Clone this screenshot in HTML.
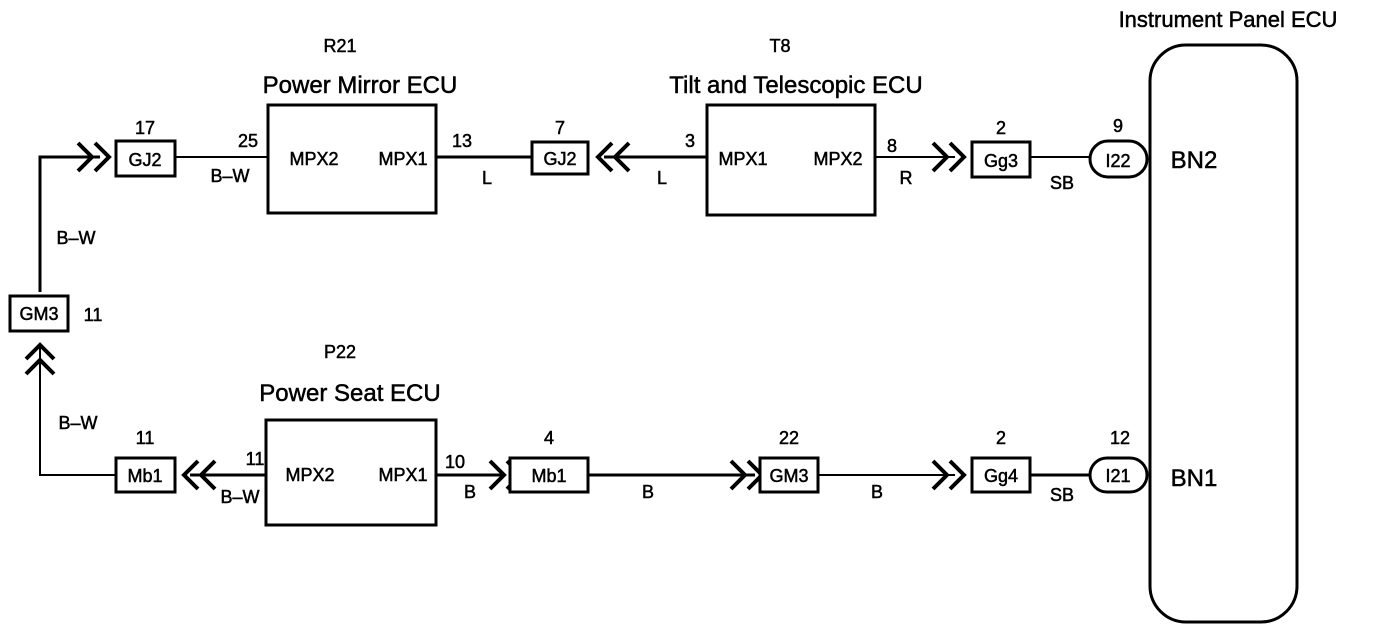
<!DOCTYPE html><html><head><style>body{margin:0;background:#fff}svg{display:block}text{font-family:"Liberation Sans",Arial,sans-serif;fill:#000;stroke:#000;stroke-width:0.5}</style></head><body>
<svg width="1376" height="630" viewBox="0 0 1376 630" xmlns="http://www.w3.org/2000/svg">
<g fill="none" stroke="#000" stroke-width="2">
<polyline points="40,292 40,157 100,157" stroke-width="3"/>
<line x1="175" y1="157" x2="268" y2="157"/>
<line x1="436" y1="157" x2="532" y2="157" stroke-width="3"/>
<line x1="604" y1="157" x2="707" y2="157" stroke-width="3"/>
<line x1="875" y1="157" x2="955" y2="157"/>
<line x1="1030" y1="157" x2="1090" y2="157"/>
<polyline points="40,345 40,475 116,475" stroke-width="2"/>
<line x1="190" y1="475" x2="266" y2="475" stroke-width="3"/>
<line x1="436" y1="475" x2="505" y2="475" stroke-width="3"/>
<line x1="588" y1="475" x2="755" y2="475" stroke-width="3"/>
<line x1="818" y1="475" x2="955" y2="475"/>
<line x1="1030" y1="475" x2="1090" y2="475" stroke-width="3"/>
</g>
<g fill="none" stroke="#000" stroke-width="4">
<polyline points="78,143 92,157 78,171"/><polyline points="95,143 109,157 95,171"/>
<polyline points="629,143 615,157 629,171"/><polyline points="612,143 598,157 612,171"/>
<polyline points="933,143 947,157 933,171"/><polyline points="950,143 964,157 950,171"/>
<polyline points="26,359 40,345 54,359"/><polyline points="26,374 40,360 54,374"/>
<polyline points="215,461 201,475 215,489"/><polyline points="198,461 184,475 198,489"/>
<polyline points="490,461 504,475 490,489"/><polyline points="507,461 521,475 507,489"/>
<polyline points="731,461 745,475 731,489"/><polyline points="748,461 762,475 748,489"/>
<polyline points="933,461 947,475 933,489"/><polyline points="950,461 964,475 950,489"/>
</g>
<g fill="#fff" stroke="#000" stroke-width="3">
<rect x="268" y="105" width="168" height="108"/>
<rect x="707" y="105" width="168" height="110"/>
<rect x="266" y="420" width="170" height="105"/>
<rect x="1150" y="45" width="147" height="577" rx="36"/>
<rect x="116" y="141" width="59" height="35"/>
<rect x="532" y="142" width="56" height="32"/>
<rect x="972" y="142" width="58" height="35"/>
<rect x="1090" y="141" width="57" height="36" rx="18"/>
<rect x="10" y="296" width="58" height="35"/>
<rect x="116" y="458" width="59" height="34"/>
<rect x="510" y="458" width="78" height="34"/>
<rect x="760" y="458" width="58" height="34"/>
<rect x="972" y="458" width="58" height="34"/>
<rect x="1090" y="458" width="57" height="34" rx="17"/>
</g>
<g font-size="18" text-anchor="middle">
<text x="145" y="166">GJ2</text><text x="560" y="165">GJ2</text><text x="1001" y="167">Gg3</text>
<text x="1118" y="167">I22</text><text x="39" y="320">GM3</text><text x="145" y="482">Mb1</text>
<text x="549" y="482">Mb1</text><text x="789" y="482">GM3</text><text x="1001" y="482">Gg4</text><text x="1118" y="482">I21</text>
<text x="314" y="165">MPX2</text><text x="403" y="165">MPX1</text>
<text x="743" y="165">MPX1</text><text x="838" y="165">MPX2</text>
<text x="310" y="481">MPX2</text><text x="403" y="481">MPX1</text>
<text x="145" y="134">17</text><text x="248" y="147">25</text><text x="462" y="147">13</text><text x="560" y="134">7</text>
<text x="690" y="147">3</text><text x="892" y="152">8</text><text x="1001" y="134">2</text><text x="1118" y="132">9</text>
<text x="93" y="321">11</text><text x="145" y="444">11</text><text x="255" y="465">11</text><text x="455" y="468">10</text>
<text x="549" y="444">4</text><text x="789" y="444">22</text><text x="1001" y="444">2</text><text x="1120" y="444">12</text>
<text x="230" y="182">B–W</text><text x="487" y="184">L</text><text x="662" y="184">L</text><text x="906" y="184">R</text><text x="1062" y="189">SB</text>
<text x="76" y="244">B–W</text><text x="78" y="429">B–W</text><text x="240" y="503">B–W</text><text x="470" y="498">B</text>
<text x="648" y="498">B</text><text x="877" y="498">B</text><text x="1062" y="501">SB</text>
<text x="340" y="52">R21</text><text x="780" y="52">T8</text><text x="340" y="358">P22</text>
</g>
<g font-size="24" text-anchor="middle">
<text x="360" y="93">Power Mirror ECU</text><text x="796" y="93">Tilt and Telescopic ECU</text>
<text x="350" y="401">Power Seat ECU</text><text x="1228" y="27" font-size="22">Instrument Panel ECU</text>
<text x="1194" y="168">BN2</text><text x="1194" y="486">BN1</text>
</g>
</svg></body></html>
